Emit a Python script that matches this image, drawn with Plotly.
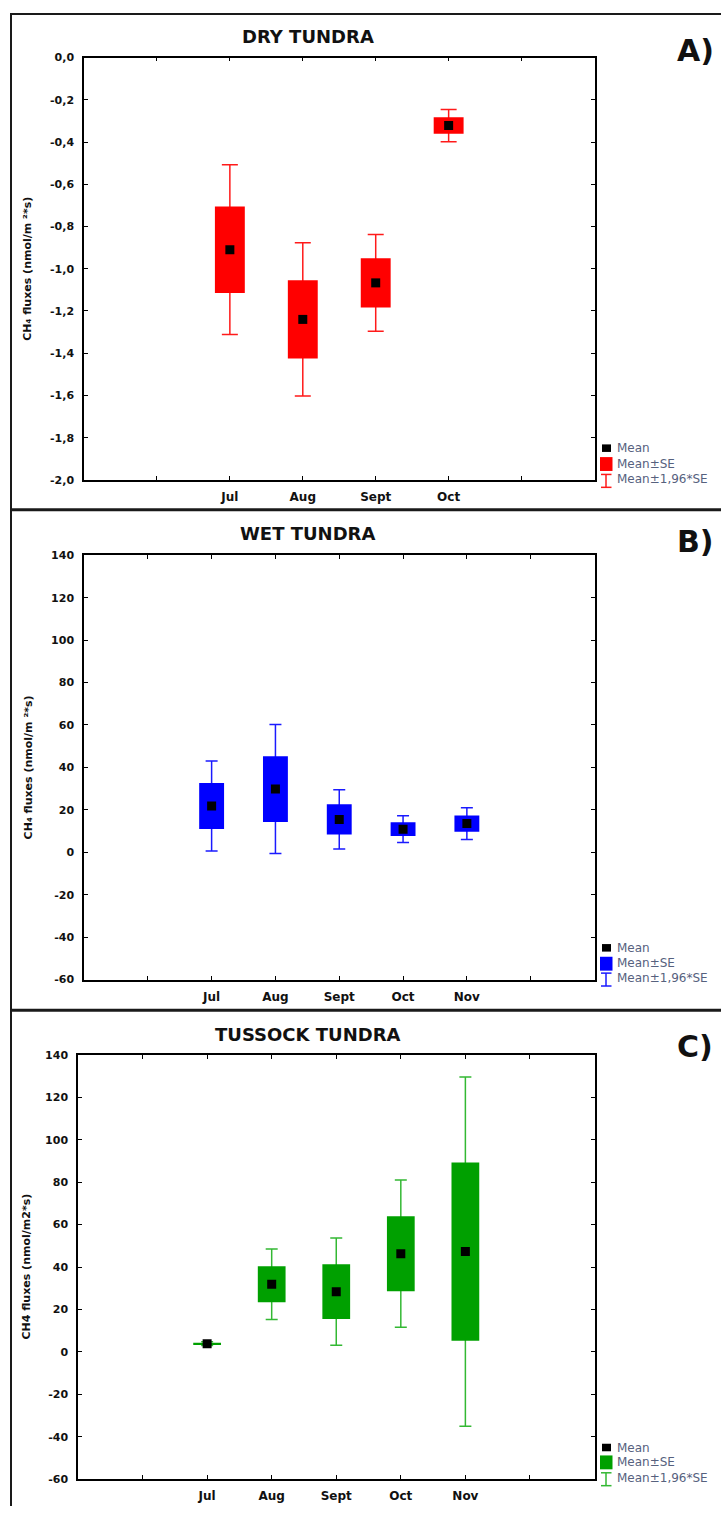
import numpy as np
import plotly.graph_objects as go

W, H = 721, 1513

# ---- data: monthly CH4 flux means and standard errors ----
dry_months = ["Jul", "Aug", "Sept", "Oct"]
dry_mean = [-0.91, -1.24, -1.067, -0.322]
dry_se = [0.205, 0.185, 0.117, 0.039]

wet_months = ["Jul", "Aug", "Sept", "Oct", "Nov"]
wet_mean = [21.8, 29.8, 15.5, 10.9, 13.5]
wet_se = [10.8, 15.5, 7.1, 3.2, 3.8]

tus_months = ["Jul", "Aug", "Sept", "Oct", "Nov"]
tus_mean = [3.9, 31.9, 28.4, 46.3, 47.3]
tus_se = [0.45, 8.5, 12.9, 17.7, 42.0]

dry_yticks = [0.0, -0.2, -0.4, -0.6, -0.8, -1.0, -1.2, -1.4, -1.6, -1.8, -2.0]
dry_yticklabels = ["0,0", "-0,2", "-0,4", "-0,6", "-0,8", "-1,0", "-1,2", "-1,4", "-1,6", "-1,8", "-2,0"]
flux_yticks = [140, 120, 100, 80, 60, 40, 20, 0, -20, -40, -60]
flux_yticklabels = ["140", "120", "100", "80", "60", "40", "20", "0", "-20", "-40", "-60"]

legend_labels = ["Mean", "Mean\u00b1SE", "Mean\u00b11,96*SE"]


def px(x):
    return x / W


def py(y):
    return 1 - y / H


BOLD = "DejaVu Sans"

panels = [
    dict(title="DRY TUNDRA", tag="A)", months=dry_months, mean=dry_mean, se=dry_se,
         yticks=dry_yticks, ylabels=dry_yticklabels, yrange=[-2.0, 0.0],
         box="#ff0000", whisk="#ff1a1a", bw=0.41, cap=8,
         plot=(84, 594.5, 52, 478), title_y=31, tag_y=45,
         ytitle="CH\u2084 fluxes (nmol/m \u00b2*s)", ytitle_x=28,
         leg=(446, 462, 479)),
    dict(title="WET TUNDRA", tag="B)", months=wet_months, mean=wet_mean, se=wet_se,
         yticks=flux_yticks, ylabels=flux_yticklabels, yrange=[-60, 140],
         box="#0000ff", whisk="#1a1aff", bw=0.39, cap=6,
         plot=(84, 594.5, 554, 982), title_y=532, tag_y=540,
         ytitle="CH\u2084 fluxes (nmol/m \u00b2*s)", ytitle_x=28,
         leg=(950, 966, 982)),
    dict(title="TUSSOCK TUNDRA", tag="C)", months=tus_months, mean=tus_mean, se=tus_se,
         yticks=flux_yticks, ylabels=flux_yticklabels, yrange=[-60, 140],
         box="#00a000", whisk="#33b833", bw=0.43, cap=6,
         plot=(78, 594.5, 1058, 1486), title_y=1037, tag_y=1050,
         ytitle="CH4 fluxes (nmol/m2*s)", ytitle_x=26.5,
         leg=(1454, 1469, 1486)),
]

fig = go.Figure()
layout = {}
shapes = []
annotations = []

for i, p in enumerate(panels, start=1):
    n = len(p["months"])
    pos = np.arange(2, n + 2)
    mean = np.array(p["mean"])
    se = np.array(p["se"])
    xa, ya, yo = f"x{i}", f"y{i}", f"y{i + 3}"

    # Mean ± 1.96*SE whiskers (base layer)
    fig.add_trace(go.Scatter(
        x=pos, y=mean, mode="markers", xaxis=xa, yaxis=ya,
        marker=dict(size=1, color="rgba(0,0,0,0)"),
        error_y=dict(type="data", symmetric=True, array=1.96 * se,
                     color=p["whisk"], thickness=1.5, width=p["cap"]),
        showlegend=False, hoverinfo="skip"))
    # Mean ± SE boxes (overlay layer, above whiskers)
    fig.add_trace(go.Bar(
        x=pos, y=2 * se, base=mean - se, width=p["bw"], xaxis=xa, yaxis=yo,
        marker=dict(color=p["box"], line=dict(width=0)),
        showlegend=False, hoverinfo="skip"))
    # Means
    fig.add_trace(go.Scatter(
        x=pos, y=mean, mode="markers", xaxis=xa, yaxis=yo,
        marker=dict(symbol="square", size=9, color="black"),
        showlegend=False, hoverinfo="skip"))

    x0, x1, y0, y1 = p["plot"]
    xkey = "xaxis" if i == 1 else f"xaxis{i}"
    ykey = "yaxis" if i == 1 else f"yaxis{i}"
    axis_common = dict(showline=True, linecolor="black", linewidth=1.5, mirror="ticks",
                       ticks="inside", ticklen=4, tickwidth=1.3, tickcolor="black",
                       showgrid=False, zeroline=False, fixedrange=True)
    layout[xkey] = dict(
        domain=[px(x0), px(x1)], range=[0, n + 3], anchor=ya,
        tickmode="array", tickvals=list(pos), ticktext=p["months"],
        minor=dict(tickmode="array", tickvals=[1, n + 2], ticks="inside",
                   ticklen=4, tickwidth=1.3, tickcolor="black", showgrid=False),
        tickfont=dict(family=BOLD, size=12, color="#111", weight="bold"),
        ticklabelstandoff=5, **axis_common)
    layout[ykey] = dict(
        domain=[py(y1), py(y0)], range=p["yrange"], anchor=xa,
        tickmode="array", tickvals=p["yticks"], ticktext=p["ylabels"],
        tickfont=dict(family=BOLD, size=11, color="#111", weight="bold"),
        ticklabelstandoff=6, **axis_common)
    layout[f"yaxis{i + 3}"] = dict(overlaying=ya, range=p["yrange"], anchor=xa,
                                   visible=False, fixedrange=True)

    # panel title, tag and y-axis title
    annotations.append(dict(x=px(307.5), y=py(p["title_y"]), xref="paper", yref="paper",
                            text=p["title"], showarrow=False, xanchor="center", yanchor="middle",
                            font=dict(family=BOLD, size=18, color="#111", weight="bold")))
    annotations.append(dict(x=px(695), y=py(p["tag_y"]), xref="paper", yref="paper",
                            text=p["tag"], showarrow=False, xanchor="center", yanchor="middle",
                            font=dict(family=BOLD, size=30, color="#111", weight="bold")))
    annotations.append(dict(x=px(p["ytitle_x"]), y=py((y0 + y1) / 2), xref="paper", yref="paper",
                            text=p["ytitle"], showarrow=False, textangle=-90,
                            xanchor="center", yanchor="middle",
                            font=dict(family=BOLD, size=11, color="#111", weight="bold")))

    # legend glyphs
    c_mean, c_se, c_ci = p["leg"]
    shapes.append(dict(type="rect", xref="paper", yref="paper",
                       x0=px(602), x1=px(611), y0=py(c_mean + 3.8), y1=py(c_mean - 3.8),
                       fillcolor="black", line=dict(width=0)))
    shapes.append(dict(type="rect", xref="paper", yref="paper",
                       x0=px(600), x1=px(612.5), y0=py(c_se + 7), y1=py(c_se - 7),
                       fillcolor=p["box"], line=dict(width=0)))
    for seg in [((606, c_ci - 6.5), (606, c_ci + 6.5)),
                ((601, c_ci - 6.5), (611.5, c_ci - 6.5)),
                ((601, c_ci + 6.5), (611.5, c_ci + 6.5))]:
        shapes.append(dict(type="line", xref="paper", yref="paper",
                           x0=px(seg[0][0]), y0=py(seg[0][1]), x1=px(seg[1][0]), y1=py(seg[1][1]),
                           line=dict(color=p["whisk"], width=1.5)))
    for lab, cy in zip(legend_labels, (c_mean, c_se - 0.5, c_ci - 1.5)):
        annotations.append(dict(x=px(615), y=py(cy), xref="paper", yref="paper",
                                text=lab, showarrow=False, xanchor="left", yanchor="middle",
                                font=dict(family="DejaVu Sans", size=12, color="#56617e")))

# outer frame and panel separators
frame = "#1a1a1a"
shapes += [
    dict(type="line", xref="paper", yref="paper", x0=px(10), x1=1, y0=py(8), y1=py(8),
         line=dict(color=frame, width=2)),
    dict(type="line", xref="paper", yref="paper", x0=px(11), x1=px(11), y0=py(8), y1=0,
         line=dict(color=frame, width=2)),
    dict(type="line", xref="paper", yref="paper", x0=px(10), x1=1, y0=py(508), y1=py(508),
         line=dict(color=frame, width=3)),
    dict(type="line", xref="paper", yref="paper", x0=px(10), x1=1, y0=py(1013), y1=py(1013),
         line=dict(color=frame, width=3)),
]

fig.update_layout(
    width=W, height=H, margin=dict(l=0, r=0, t=0, b=0),
    paper_bgcolor="white", plot_bgcolor="white",
    showlegend=False, shapes=shapes, annotations=annotations, **layout)

fig.write_html("out.html", config={"displayModeBar": False})
